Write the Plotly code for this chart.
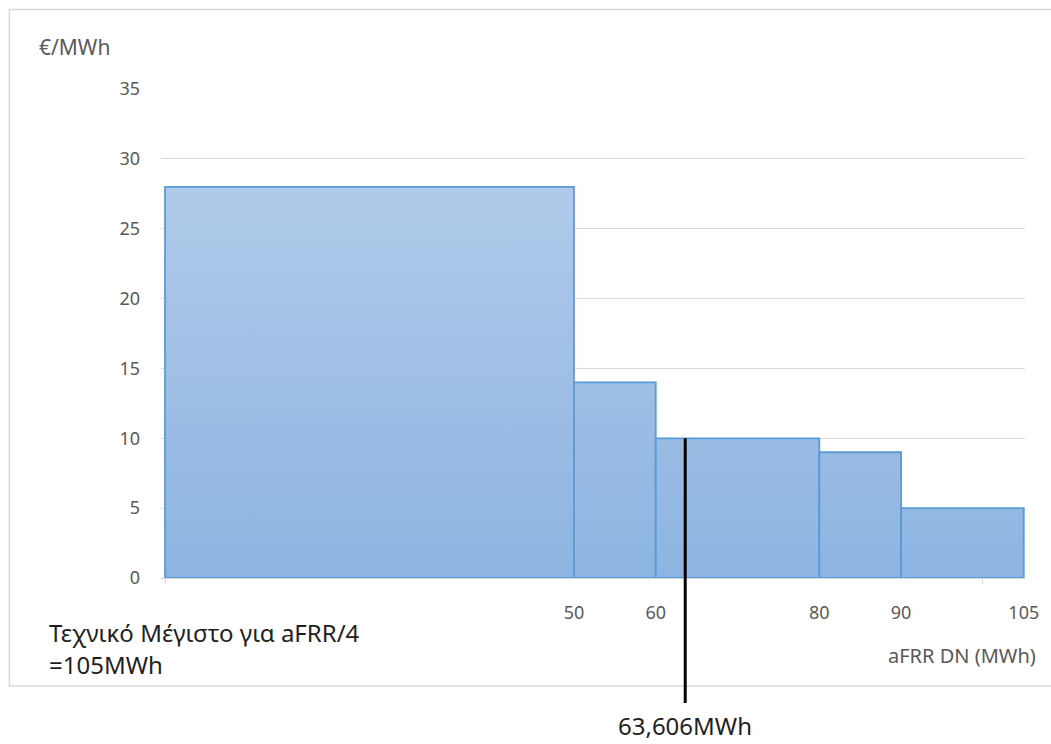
import plotly.graph_objects as go

# Step-wise offer curve for aFRR downward energy
block_start = [0, 50, 60, 80, 90]
block_end = [50, 60, 80, 90, 105]
block_price = [28, 14, 10, 9, 5]

x_tick_vals = [50, 60, 80, 90, 105]
y_tick_vals = [0, 5, 10, 15, 20, 25, 30, 35]

cleared_quantity = 63.606
technical_max = 105
y_max = 35

W, H = 1051, 744
L, R, T, B = 161, 21, 89, 166
plot_w = W - L - R
plot_h = H - T - B


def px_x(p):
    return (p - L) / plot_w


def px_y(p):
    return (H - B - p) / plot_h


GRAY = "#595959"
DARK = "#1f1f1f"
FONT = "Noto Sans"

fig = go.Figure()

for x0, x1, price in zip(block_start, block_end, block_price):
    fig.add_trace(go.Scatter(
        x=[x0, x0, x1, x1, x0],
        y=[0, price, price, 0, 0],
        mode="lines",
        fill="toself",
        fillgradient=dict(
            type="vertical",
            colorscale=[[0, "#8db4e2"], [1, "#b0cae9"]],
            start=0,
            stop=max(block_price),
        ),
        line=dict(color="#5b9bd5", width=1.8),
        hoverinfo="skip",
        showlegend=False,
    ))

fig.update_layout(
    width=W,
    height=H,
    margin=dict(l=L, r=R, t=T, b=B),
    paper_bgcolor="white",
    plot_bgcolor="white",
    font=dict(family=FONT, color=GRAY, size=18),
    showlegend=False,
    xaxis=dict(
        range=[-0.49, 105.15],
        tickvals=x_tick_vals,
        ticktext=[str(v) for v in x_tick_vals],
        ticks="",
        showgrid=False,
        zeroline=False,
        showline=True,
        linecolor="#d9d9d9",
        linewidth=1,
        ticklabelstandoff=18,
        tickfont=dict(size=18, color=GRAY),
        minor=dict(tickvals=[0, 100], ticks="outside", ticklen=5,
                   tickcolor="#d9d9d9", showgrid=False),
    ),
    yaxis=dict(
        range=[0, y_max],
        tickvals=y_tick_vals,
        ticks="",
        showgrid=True,
        gridcolor="#d9d9d9",
        gridwidth=1,
        zeroline=False,
        showline=False,
        ticklabelstandoff=20,
        tickfont=dict(size=18, color=GRAY),
    ),
)

shapes = [
    # chart frame
    dict(type="rect", xref="paper", yref="paper",
         x0=px_x(8.5), x1=px_x(1060), y0=px_y(686), y1=px_y(9.5),
         line=dict(color="#d9d9d9", width=1.5), layer="below"),
    # cleared quantity marker
    dict(type="line", xref="x", yref="paper",
         x0=cleared_quantity, x1=cleared_quantity,
         y0=block_price[2] / y_max, y1=px_y(703),
         line=dict(color="black", width=3), layer="above"),
]
fig.update_layout(shapes=shapes)

annotations = [
    dict(text="€/MWh", x=px_x(36), y=px_y(47), xanchor="left", yanchor="middle",
         xref="paper", font=dict(size=21, color=GRAY)),
    dict(text="aFRR DN (MWh)", x=px_x(1043), y=px_y(655), xanchor="right",
         xref="paper", yanchor="middle", font=dict(size=20, color=GRAY)),
    dict(text="Τεχνικό Μέγιστο για aFRR/4", x=px_x(46), y=px_y(632),
         xref="paper", xanchor="left", yanchor="middle",
         font=dict(size=24, color=DARK)),
    dict(text=f"={technical_max}MWh", x=px_x(46), y=px_y(664),
         xref="paper", xanchor="left", yanchor="middle",
         font=dict(size=24, color=DARK)),
    dict(text=f"{cleared_quantity:.3f}".replace(".", ",") + "MWh",
         x=cleared_quantity, xref="x", y=px_y(726),
         xanchor="center", yanchor="middle",
         font=dict(size=24, color=DARK)),
]
for a in annotations:
    a.update(yref="paper", showarrow=False)
fig.update_layout(annotations=annotations)

fig.write_html("out.html")
